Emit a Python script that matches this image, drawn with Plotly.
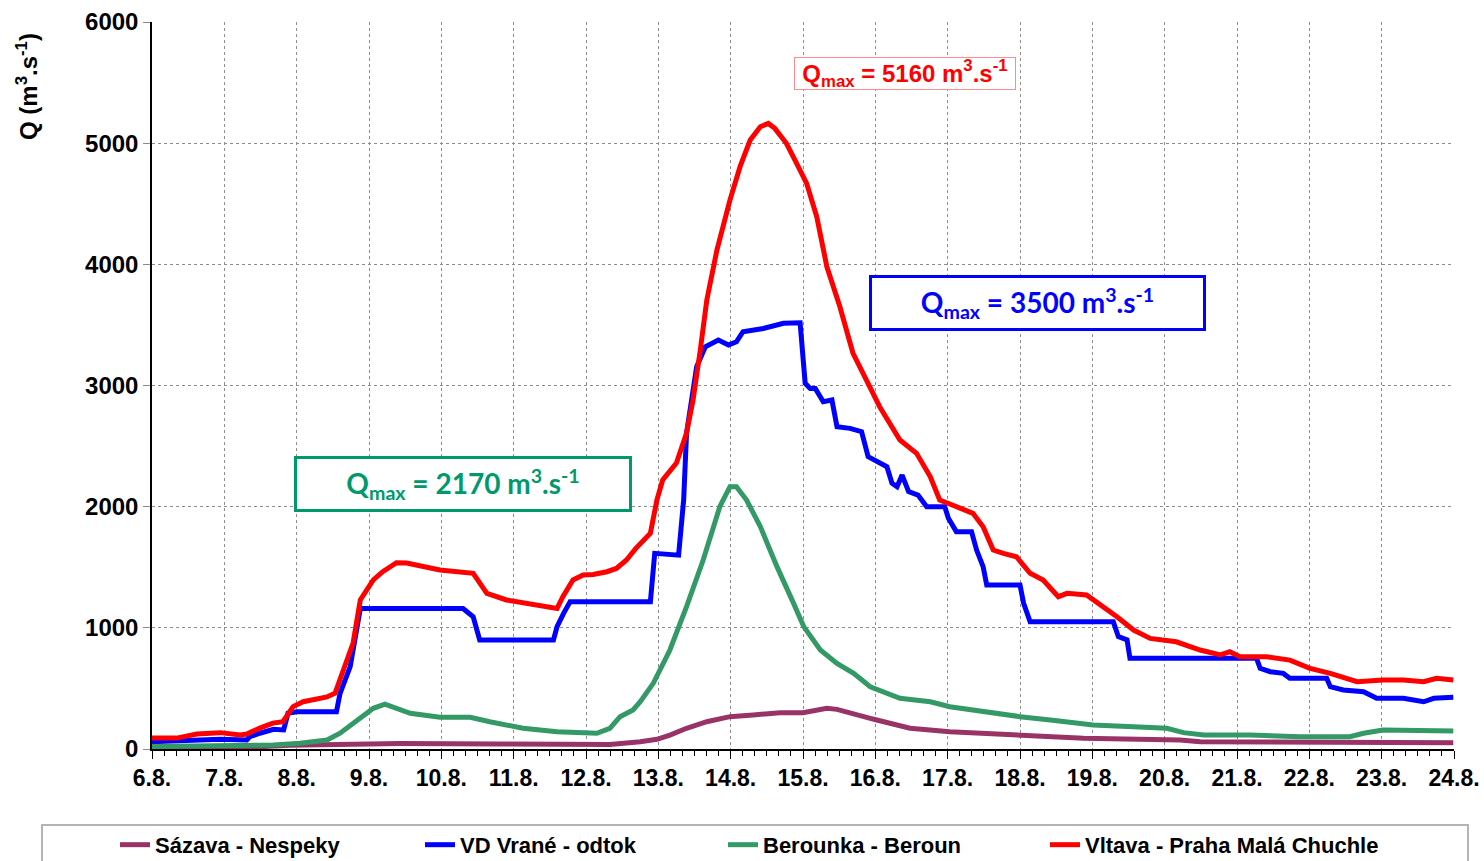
import plotly.graph_objects as go

# ---------------- data (t = days since 6.8. 00:00) ----------------
tick_labels = ["6.8.", "7.8.", "8.8.", "9.8.", "10.8.", "11.8.", "12.8.", "13.8.", "14.8.",
               "15.8.", "16.8.", "17.8.", "18.8.", "19.8.", "20.8.", "21.8.", "22.8.", "23.8.", "24.8."]
tick_days = list(range(len(tick_labels)))

sazava_t = [0.00, 1.35, 1.91, 2.74, 3.43, 4.81, 6.33, 6.75, 6.98, 7.16, 7.39, 7.67, 7.99, 8.31,
            8.68, 9.00, 9.33, 9.47, 9.70, 9.93, 10.02, 10.48, 11.03, 11.95, 12.88, 14.21, 14.49, 17.99]
sazava_q = [10, 15, 30, 38, 45, 42, 38, 60, 80, 115, 171, 225, 267, 280,
            300, 300, 336, 327, 295, 253, 239, 171, 143, 115, 88, 74, 60, 52]

vrane_t = [0.00, 0.53, 0.94, 1.31, 1.35, 1.49, 1.68, 1.82, 1.88, 2.00, 2.55, 2.60, 2.74, 2.88,
           4.30, 4.44, 4.53, 5.55, 5.60, 5.69, 5.78, 6.89, 6.95, 7.28, 7.35, 7.39, 7.53, 7.65,
           7.83, 7.97, 8.08, 8.17, 8.45, 8.73, 8.96, 9.03, 9.10, 9.17, 9.28, 9.40, 9.47, 9.65,
           9.81, 9.90, 10.16, 10.23, 10.30, 10.37, 10.46, 10.59, 10.71, 10.96, 11.01, 11.12,
           11.33, 11.40, 11.49, 11.54, 12.00, 12.05, 12.14, 13.29, 13.36, 13.48, 13.52, 15.27,
           15.32, 15.46, 15.64, 15.73, 16.24, 16.29, 16.47, 16.75, 16.93, 17.30, 17.58, 17.72, 17.99]
vrane_q = [60, 74, 80, 74, 101, 130, 162, 157, 295, 308, 308, 460, 680, 1160,
           1160, 1092, 900, 900, 1010, 1120, 1215, 1215, 1615, 1600, 2055, 2605, 3155, 3320,
           3375, 3334, 3361, 3444, 3471, 3513, 3518, 3018, 2976, 2976, 2866, 2880, 2660, 2646,
           2619, 2413, 2330, 2193, 2165, 2261, 2124, 2096, 2000, 2000, 1904, 1794,
           1794, 1642, 1505, 1353, 1353, 1202, 1050, 1050, 927, 900, 748, 748,
           666, 638, 624, 583, 583, 514, 487, 473, 418, 418, 390, 418, 427]

berounka_t = [0.00, 1.68, 2.05, 2.42, 2.60, 2.78, 2.92, 3.06, 3.22, 3.38, 3.57, 3.98, 4.40, 4.67,
              5.13, 5.60, 6.15, 6.33, 6.47, 6.65, 6.75, 6.93, 7.16, 7.39, 7.62, 7.85, 7.99, 8.08,
              8.22, 8.41, 8.64, 8.87, 9.01, 9.24, 9.47, 9.70, 9.93, 10.34, 10.76, 11.03, 11.49,
              12.00, 12.42, 13.01, 13.57, 14.03, 14.26, 14.54, 15.18, 15.87, 16.56, 16.75, 17.02,
              17.46, 17.99]
berounka_q = [20, 33, 47, 74, 130, 212, 267, 336, 371, 336, 295, 262, 262, 225,
              171, 143, 130, 171, 267, 322, 390, 542, 817, 1175, 1560, 2000, 2165, 2165,
              2055, 1835, 1505, 1202, 1010, 817, 707, 624, 514, 418, 390, 349, 308,
              267, 239, 198, 184, 171, 135, 115, 115, 101, 101, 130, 157,
              157, 148]

vltava_t = [0.00, 0.34, 0.62, 0.94, 1.22, 1.31, 1.49, 1.67, 1.81, 1.95, 2.09, 2.42, 2.53, 2.64,
            2.78, 2.88, 3.06, 3.19, 3.38, 3.52, 3.98, 4.44, 4.63, 4.90, 5.36, 5.60, 5.68, 5.82,
            5.96, 6.10, 6.29, 6.42, 6.56, 6.68, 6.89, 6.98, 7.06, 7.25, 7.39, 7.48, 7.58, 7.67,
            7.81, 7.99, 8.13, 8.27, 8.41, 8.52, 8.61, 8.77, 8.91, 9.05, 9.19, 9.33, 9.51, 9.69,
            9.83, 10.06, 10.34, 10.57, 10.76, 10.89, 11.03, 11.35, 11.49, 11.63, 11.77, 11.95,
            12.14, 12.32, 12.53, 12.65, 12.92, 13.15, 13.34, 13.57, 13.80, 14.16, 14.49, 14.77,
            14.90, 15.04, 15.41, 15.73, 16.01, 16.29, 16.66, 17.02, 17.30, 17.58, 17.76, 17.99]
vltava_q = [90, 90, 124, 135, 115, 124, 173, 214, 225, 350, 390, 430, 460, 650,
            875, 1230, 1395, 1463, 1537, 1535, 1477, 1450, 1285, 1230, 1190, 1160, 1257, 1395,
            1436, 1440, 1463, 1490, 1560, 1650, 1780, 2055, 2220, 2360, 2607, 2880, 3293, 3705,
            4118, 4530, 4806, 5026, 5136, 5163, 5122, 4999, 4836, 4668, 4393, 3980, 3650, 3268,
            3100, 2825, 2550, 2440, 2247, 2055, 2022, 1945, 1835, 1642, 1615, 1587,
            1450, 1395, 1257, 1285, 1271, 1175, 1092, 982, 913, 885, 817, 776,
            803, 762, 762, 734, 666, 624, 555, 569, 569, 555, 583, 569]

series_names = ["Sázava - Nespeky", "VD Vrané - odtok", "Berounka - Beroun", "Vltava - Praha Malá Chuchle"]
series_colors = ["#993366", "#0000FF", "#339966", "#FF0000"]

qmax_vltava = 5160
qmax_vrane = 3500
qmax_berounka = 2170

# ---------------- figure ----------------
FONT = "Liberation Sans, Arial, sans-serif"
PLOT_L, PLOT_W = 152, 1302
legend_ids = ["legend", "legend2", "legend3", "legend4"]
legend_px = [115, 420, 723, 1045]   # left edges of the legend entries (pixels)

fig = go.Figure()
for t, q, name, col, lid in zip([sazava_t, vrane_t, berounka_t, vltava_t],
                                [sazava_q, vrane_q, berounka_q, vltava_q],
                                series_names, series_colors, legend_ids):
    fig.add_trace(go.Scatter(x=t, y=q, mode="lines", name=name, legend=lid,
                             line=dict(color=col, width=5)))

grid = dict(showgrid=True, gridcolor="#8c8c8c", gridwidth=1, griddash="3px,3px")

legend_style = dict(orientation="h", xanchor="left", y=-0.103, yanchor="top",
                    font=dict(family=FONT, size=22, weight="bold"),
                    bgcolor="rgba(0,0,0,0)", borderwidth=0)
legends = {lid: dict(x=(px - PLOT_L) / PLOT_W, **legend_style) for lid, px in zip(legend_ids, legend_px)}

fig.update_layout(
    width=1484, height=861,
    margin=dict(l=152, r=30, t=22, b=112, autoexpand=False),
    paper_bgcolor="white", plot_bgcolor="white",
    font=dict(family=FONT, color="black"),
    showlegend=True,
    xaxis=dict(range=[0, 18], tickmode="array", tickvals=tick_days, ticktext=tick_labels,
               tickfont=dict(family=FONT, size=23, weight="bold"),
               showline=True, linecolor="black", linewidth=1.5,
               ticks="outside", ticklen=8, tickcolor="black", zeroline=False,
               minor=dict(dtick=1/6, ticks="outside", ticklen=5, tickcolor="black", showgrid=False),
               **grid),
    yaxis=dict(range=[0, 6000], tick0=0, dtick=1000,
               tickfont=dict(family=FONT, size=24, weight="bold"),
               showline=True, linecolor="black", linewidth=1.5,
               ticks="outside", ticklen=7, tickcolor="#8c8c8c", zeroline=False,
               **grid),
    **legends,
)

# y-axis title near the top
fig.add_annotation(xref="paper", yref="paper", x=-0.096, y=0.9106, xanchor="center", yanchor="middle",
                   text="Q (m<sup>3</sup>.s<sup>-1</sup>)", textangle=-90, showarrow=False,
                   font=dict(family=FONT, size=24, weight="bold", color="black"))

# Q max labels
fig.add_annotation(x=10.41, y=5575,
                   text=f"Q<sub>max</sub> = {qmax_vltava} m<sup>3</sup>.s<sup>-1</sup>",
                   showarrow=False, font=dict(family=FONT, size=24, weight="bold", color="#FF0000"),
                   bordercolor="#FF8C8C", borderwidth=1, borderpad=0, width=220, height=31,
                   bgcolor="white")
fig.add_annotation(x=12.24, y=3681,
                   text=f"Q<sub>max</sub> = {qmax_vrane} m<sup>3</sup>.s<sup>-1</sup>",
                   showarrow=False, font=dict(family="Lato, sans-serif", size=28, weight="bold", color="#0000FF"),
                   bordercolor="#0000FF", borderwidth=3, borderpad=0, width=331, height=50,
                   bgcolor="white")
fig.add_annotation(x=4.30, y=2187,
                   text=f"Q<sub>max</sub> = {qmax_berounka} m<sup>3</sup>.s<sup>-1</sup>",
                   showarrow=False, font=dict(family="Lato, sans-serif", size=28, weight="bold", color="#00996B"),
                   bordercolor="#00996B", borderwidth=3, borderpad=0, width=332, height=50,
                   bgcolor="white")

# legend frame (extends past the bottom edge as in the reference)
fig.add_shape(type="rect", xref="paper", yref="paper",
              x0=(42 - PLOT_L) / PLOT_W, x1=(1468 - PLOT_L) / PLOT_W,
              y0=(749 - 825) / 727, y1=(749 - 880) / 727,
              line=dict(color="#b4b4b4", width=2), fillcolor="rgba(0,0,0,0)", layer="below")

fig.write_html("out.html", config={"displayModeBar": False},
               post_script="document.body.style.margin='0px';")
